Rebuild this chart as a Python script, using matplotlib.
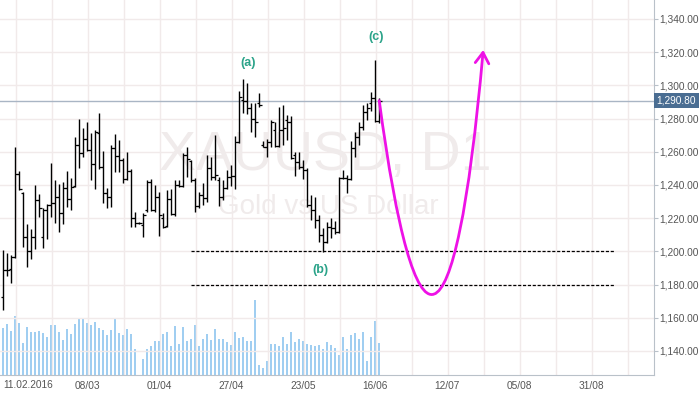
import matplotlib
matplotlib.use("Agg")
import matplotlib.pyplot as plt
from matplotlib.path import Path
from matplotlib.patches import FancyArrowPatch
from matplotlib.ticker import FuncFormatter
import matplotlib.transforms as mtransforms

plt.rcParams["font.family"] = ["Liberation Sans", "DejaVu Sans"]

# daily bars of XAUUSD, bar index 0 = 08.02.2016
opens = [1172.5, 1188.8, 1189.4, 1196.6, 1246.6, 1235.0, 1208.6, 1200.2, 1208.6, 1230.9,
         1208.6, 1224.9, 1227.9, 1229.1, 1232.7, 1223.1, 1238.1, 1231.5, 1239.4, 1264.1,
         1259.2, 1267.7, 1261.0, 1252.6, 1271.3, 1250.5, 1235.1, 1232.7, 1262.2, 1257.4,
         1255.0, 1243.6, 1248.4, 1220.1, 1217.1, 1215.9, 1224.9, 1241.8, 1224.9, 1232.7,
         1220.1, 1215.3, 1231.5, 1222.5, 1240.0, 1239.4, 1258.0, 1254.5, 1243.0, 1227.3,
         1233.9, 1232.1, 1250.2, 1244.8, 1243.0, 1232.7, 1238.1, 1244.8, 1245.4, 1265.9,
         1291.2, 1290.6, 1286.3, 1279.7, 1289.4, 1264.1, 1262.8, 1265.9, 1273.1, 1263.4,
         1273.1, 1279.1, 1277.9, 1258.0, 1253.8, 1250.8, 1249.0, 1227.9, 1224.9, 1218.9,
         1209.8, 1205.6, 1214.7, 1214.1, 1211.6, 1244.2, 1244.2, 1243.6, 1262.2, 1268.9,
         1274.9, 1283.9, 1289.4, 1292.4, 1278.5]
highs = [1200.8, 1199.2, 1197.8, 1262.8, 1248.4, 1235.5, 1216.5, 1213.4, 1240.0, 1234.5,
         1226.1, 1228.5, 1253.2, 1243.0, 1240.6, 1241.8, 1248.4, 1244.2, 1268.9, 1279.7,
         1274.3, 1277.9, 1271.3, 1273.1, 1283.3, 1260.4, 1238.1, 1264.1, 1270.7, 1267.1,
         1256.2, 1259.8, 1249.6, 1223.7, 1217.8, 1223.1, 1243.0, 1243.6, 1240.0, 1235.7,
         1223.1, 1236.9, 1237.5, 1243.0, 1243.0, 1259.2, 1262.8, 1255.0, 1244.2, 1235.7,
         1241.2, 1258.0, 1256.8, 1270.1, 1244.8, 1243.0, 1249.0, 1252.0, 1269.5, 1296.6,
         1303.8, 1301.4, 1289.4, 1289.4, 1295.4, 1266.5, 1267.7, 1279.1, 1277.9, 1286.9,
         1288.1, 1282.1, 1281.5, 1259.8, 1259.8, 1255.0, 1250.2, 1233.9, 1232.7, 1221.9,
         1214.1, 1217.7, 1220.1, 1218.3, 1244.8, 1249.0, 1246.0, 1266.5, 1271.9, 1277.9,
         1288.1, 1289.4, 1296.0, 1315.3, 1292.4]
lows = [1164.7, 1185.1, 1180.9, 1196.0, 1236.9, 1202.6, 1190.6, 1195.4, 1201.4, 1220.7,
        1202.0, 1207.4, 1220.7, 1217.1, 1211.6, 1216.5, 1226.7, 1224.9, 1238.5, 1250.2,
        1256.8, 1260.4, 1243.0, 1237.5, 1249.6, 1229.1, 1226.1, 1226.7, 1247.8, 1247.8,
        1241.2, 1243.0, 1214.7, 1214.7, 1216.5, 1208.6, 1223.7, 1224.3, 1223.7, 1209.2,
        1214.1, 1214.7, 1221.9, 1221.5, 1238.5, 1238.5, 1244.8, 1241.9, 1223.7, 1226.0,
        1227.9, 1229.7, 1243.0, 1243.0, 1227.3, 1230.9, 1237.5, 1239.4, 1237.5, 1265.3,
        1283.3, 1282.7, 1271.9, 1268.9, 1286.9, 1262.8, 1256.8, 1262.8, 1262.8, 1262.8,
        1264.1, 1267.1, 1255.6, 1245.4, 1249.6, 1243.6, 1226.7, 1218.9, 1214.1, 1205.6,
        1199.6, 1205.0, 1208.0, 1210.4, 1211.0, 1243.6, 1235.1, 1243.0, 1256.8, 1264.1,
        1273.1, 1279.1, 1284.5, 1277.9, 1277.3]
closes = [1188.8, 1188.8, 1196.6, 1246.6, 1237.5, 1208.6, 1200.2, 1208.6, 1230.9, 1226.1,
          1224.9, 1227.9, 1229.1, 1232.7, 1223.1, 1238.1, 1231.5, 1238.8, 1264.1, 1259.2,
          1267.7, 1261.0, 1252.6, 1271.9, 1250.5, 1235.1, 1232.7, 1262.2, 1257.4, 1255.0,
          1243.6, 1248.4, 1220.1, 1217.1, 1217.1, 1221.9, 1241.8, 1224.9, 1232.7, 1221.9,
          1214.7, 1231.5, 1222.5, 1240.0, 1239.4, 1258.0, 1255.6, 1243.0, 1227.3, 1233.9,
          1232.1, 1250.2, 1244.8, 1246.0, 1232.7, 1238.1, 1244.8, 1245.4, 1265.9, 1293.0,
          1290.6, 1286.3, 1279.7, 1277.9, 1288.1, 1262.8, 1265.9, 1277.9, 1263.4, 1273.1,
          1274.3, 1277.9, 1256.2, 1253.8, 1250.8, 1249.0, 1227.9, 1224.9, 1218.9, 1209.8,
          1205.6, 1214.7, 1214.1, 1211.6, 1244.2, 1244.2, 1243.6, 1262.2, 1268.9, 1274.9,
          1283.9, 1286.3, 1292.4, 1278.5, 1290.8]
volume = [142, 154, 132, 177, 156, 97, 145, 129, 129, 132,
          126, 114, 150, 150, 129, 105, 138, 124, 153, 168,
          171, 156, 150, 159, 141, 135, 120, 135, 171, 126,
          120, 138, 123, 78, 0, 48, 78, 87, 102, 102,
          123, 129, 87, 147, 93, 144, 102, 108, 150, 87,
          108, 123, 105, 138, 108, 108, 99, 90, 129, 111,
          114, 102, 102, 225, 30, 21, 42, 93, 93, 87,
          114, 93, 129, 99, 108, 102, 93, 90, 87, 90,
          78, 99, 90, 81, 60, 114, 78, 120, 126, 108,
          129, 42, 114, 162, 96]

date_ticks = [3, 21, 39, 57, 75, 93, 111, 129, 147]
date_labels = ["11.02.2016", "08/03", "01/04", "27/04", "23/05", "16/06", "12/07", "05/08", "31/08"]
price_ticks = [1140, 1160, 1180, 1200, 1220, 1240, 1260, 1280, 1300, 1320, 1340]

last_price = 1290.80
support_levels = [1200.0, 1179.5]
support_span = (46.9, 152.7)

# hand-drawn projection (bezier control points: bar index, price)
proj_x = [94.0, 102.9, 112.9, 120.0]
proj_y = [1290.8, 1130.5, 1130.5, 1321.3]

wave_labels = ["(a)", "(b)", "(c)"]
wave_x = [61.2, 79.4, 93.2]
wave_y = [1313.4, 1188.8, 1329.1]

bg = "#fffafa"
grid_c = "#f1eaea"
axis_c = "#b9c1c9"
text_c = "#555555"

fig = plt.figure(figsize=(7.0, 3.94), dpi=100)
pos = [0.0, 19 / 394, 654 / 700, 375 / 394]
x_range = (-0.825, 162.7)

# volume pane underneath
axv = fig.add_axes(pos, facecolor=bg)
axv.vlines(range(len(volume)), 0, volume, color="#84c0ee", lw=1.1, zorder=1)
axv.set_xlim(*x_range)
axv.set_ylim(0, 1125)
axv.axis("off")
axv.patch.set_visible(True)

ax = fig.add_axes(pos)
ax.patch.set_alpha(0)
ax.set_xlim(*x_range)
ax.set_ylim(1125.5, 1351.4)

# grid
for k in range(18):
    ax.axvline(3.1 + 9 * k, color=grid_c, lw=1, zorder=0)
for p in price_ticks:
    ax.axhline(p, color=grid_c, lw=1, zorder=0)

# watermark
ax.text(80.5, 1257.5, "XAUUSD, D1", fontsize=40, color="#f0ebeb", ha="center", va="center", zorder=1)
ax.text(81.2, 1227.0, "Gold vs US Dollar", fontsize=20, color="#f0ebeb", ha="center", va="center", zorder=1)

# last price line
ax.axhline(last_price, color="#a9b5c4", lw=1, zorder=2)

# OHLC bars
idx = list(range(len(opens)))
ax.vlines(idx, lows, highs, color="black", lw=1.0, zorder=3)
ax.hlines(opens, [i - 0.6 for i in idx], idx, color="black", lw=0.9, zorder=3)
ax.hlines(closes, idx, [i + 0.6 for i in idx], color="black", lw=0.9, zorder=3)

# support lines
for lvl in support_levels:
    ax.hlines(lvl, support_span[0], support_span[1], colors="black", lw=0.9,
              linestyles=(0, (2.5, 1.4)), zorder=3)

# projection arrow
verts = list(zip(proj_x, proj_y))
path = Path(verts, [Path.MOVETO, Path.CURVE4, Path.CURVE4, Path.CURVE4])
arrow = FancyArrowPatch(path=path, arrowstyle="->,head_length=0.55,head_width=0.35",
                        mutation_scale=14, color="#ee11e6", lw=2.0, zorder=4)
ax.add_patch(arrow)

for lab, x, y in zip(wave_labels, wave_x, wave_y):
    ax.text(x, y, lab, color="#2ba389", fontsize=9, fontweight="bold",
            ha="center", va="center", zorder=5)

# axes styling
for s in ["top", "left"]:
    ax.spines[s].set_visible(False)
ax.spines["right"].set_color(axis_c)
ax.spines["bottom"].set_color(axis_c)
ax.yaxis.tick_right()
ax.set_yticks(price_ticks)
ax.yaxis.set_major_formatter(FuncFormatter(lambda v, p: f"{v:,.2f}"))
ax.tick_params(axis="y", length=3, width=0.8, color=axis_c, labelsize=7.3,
               labelcolor=text_c, pad=1)

ax.set_xticks(date_ticks[1:])
ax.set_xticklabels(date_labels[1:])
ax.tick_params(axis="x", length=0, labelsize=7.3, labelcolor=text_c, pad=4)
ax.text(-0.1, -0.012, date_labels[0], transform=mtransforms.blended_transform_factory(ax.transData, ax.transAxes),
        ha="left", va="top", fontsize=7.3, color=text_c)

# last price tag
ax.text(1.004, last_price, f"{last_price:,.2f}",
        transform=mtransforms.blended_transform_factory(ax.transAxes, ax.transData),
        ha="left", va="center", fontsize=7.3, color="white", zorder=6,
        bbox=dict(boxstyle="square,pad=0.25", facecolor="#4a6d92", edgecolor="none"))

fig.savefig("out.png", dpi=100, facecolor="white")
